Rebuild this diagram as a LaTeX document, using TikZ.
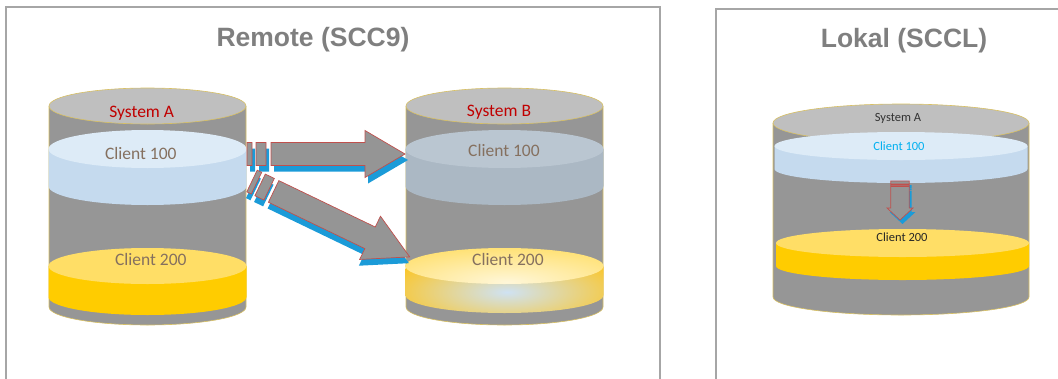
\documentclass[tikz,border=0pt]{standalone}
\usepackage{fontspec}
\setmainfont{Liberation Sans}
\newfontfamily\calfont{Carlito}
\definecolor{cylgray}{HTML}{969696}
\definecolor{cyltop}{HTML}{BFBFBF}
\definecolor{cylline}{HTML}{D8C063}
\definecolor{bluetop}{HTML}{DDEBF7}
\definecolor{blueside}{HTML}{C5DAEE}
\definecolor{yeltop}{HTML}{FFDE66}
\definecolor{yelside}{HTML}{FFCC00}
\definecolor{btop}{HTML}{BAC6D1}
\definecolor{bside}{HTML}{ABB8C4}
\definecolor{shadowblue}{HTML}{1B9BD8}
\definecolor{arrred}{HTML}{C0504D}
\definecolor{arrgray}{HTML}{959595}
\definecolor{titlegray}{HTML}{7F7F7F}
\definecolor{framegray}{HTML}{A6A6A6}
\definecolor{sysred}{HTML}{C00000}
\definecolor{clientbrown}{HTML}{85705F}
\definecolor{clientblue}{HTML}{00B0F0}
\definecolor{lightcore}{HTML}{CFE2F3}
\definecolor{strongyel}{HTML}{FBC629}

\newcommand\cylbody[6]{%
  \fill[cylgray] (#1-#2,#3) -- (#1-#2,#4) arc[start angle=180,end angle=0,x radius=#2,y radius=#6] -- (#1+#2,#3) -- cycle;
  \draw[cylline,line width=0.6] (#1-#2,#3) -- (#1-#2,#4) arc[start angle=180,end angle=0,x radius=#2,y radius=#6] -- (#1+#2,#3);
  \filldraw[fill=cyltop,draw=cylline,line width=0.6] (#1,#3) ellipse[x radius=#2,y radius=#5];
}
\newcommand\disc[7]{%
  \fill[#6] (#1-#2,#3) -- (#1-#2,#4) arc[start angle=180,end angle=0,x radius=#2,y radius=#5] -- (#1+#2,#3) -- cycle;
  \fill[#7] (#1,#3) ellipse[x radius=#2,y radius=#5];
}
% striped arrow: #1 length, #2 shaft half width, #3 head half width, #4 head length,
% stripes [0,#5] and [#6,#7], main shaft from #8, #9 shadow offset
\newcommand\drawsarrow[9]{%
  \fill[shadowblue,shift={(#9)}] (0,-#2) -- (#5,-#2) -- (#5,#2) -- (0,#2) -- cycle
    (#6,-#2) -- (#7,-#2) -- (#7,#2) -- (#6,#2) -- cycle
    (#8,-#2) -- ({#1-#4},-#2) -- ({#1-#4},-#3) -- (#1,0) -- ({#1-#4},#3) -- ({#1-#4},#2) -- (#8,#2) -- cycle;
  \filldraw[fill=arrgray,draw=arrred,line width=0.7] (0,-#2) -- (#5,-#2) -- (#5,#2) -- (0,#2) -- cycle
    (#6,-#2) -- (#7,-#2) -- (#7,#2) -- (#6,#2) -- cycle
    (#8,-#2) -- ({#1-#4},-#2) -- ({#1-#4},-#3) -- (#1,0) -- ({#1-#4},#3) -- ({#1-#4},#2) -- (#8,#2) -- cycle;
}

\tikzset{
  titletext/.style={font=\fontsize{26.5}{30}\selectfont\bfseries, text=titlegray, inner sep=0, anchor=base},
  biglbl/.style={font=\calfont\fontsize{17.5}{20}\selectfont, inner sep=0, anchor=base},
  smalllbl/.style={font=\calfont\fontsize{12.5}{15}\selectfont, inner sep=0, anchor=base},
  frame/.style={draw=framegray, line width=2},
}

\begin{document}
\begin{tikzpicture}[x=1pt,y=-1pt]
\useasboundingbox (0,0) rectangle (1058,378);

% frames
\draw[frame] (6,381) -- (6,7) -- (660,7) -- (660,381);
\draw[frame] (716,381) -- (716,9) -- (1061,9);

% titles
\node[titletext] (tremote) at (313,46) {Remote (SCC9)};
\node[titletext] (tlokal) at (904,47.5) {Lokal (SCCL)};

% cylinder A
\cylbody{147.5}{98.5}{106}{307}{18}{18}
\disc{147.5}{99}{149}{186}{19}{blueside}{bluetop}
\disc{147.5}{99}{266}{297}{18}{yelside}{yeltop}

% cylinder B
\cylbody{504.5}{98.5}{106}{307}{18}{18}
\disc{504.5}{99}{149}{186}{19}{bside}{btop}
\begin{scope}
  \clip (504.5-99,266) -- (504.5-99,295) arc[start angle=180,end angle=0,x radius=99,y radius=18] -- (504.5+99,266) -- cycle;
  \shade[inner color=lightcore, outer color=strongyel] (507,292) ellipse[x radius=125,y radius=40];
\end{scope}
\begin{scope}
  \clip (504.5,266) ellipse[x radius=99,y radius=18];
  \shade[inner color=white!75!yeltop, outer color=yeltop] (507,282) ellipse[x radius=160,y radius=40];
\end{scope}

% arrows
\begin{scope}[shift={(247,154)}]
  \drawsarrow{158}{11.5}{23.5}{40}{5}{9}{19}{24}{3,6}
\end{scope}
\begin{scope}[shift={(252,181)}, x={(0.9011pt,-0.4337pt)}, y={(-0.4337pt,-0.9011pt)}]
  \drawsarrow{175}{12}{24}{44}{5}{9}{19}{24}{2,6}
\end{scope}

% cylinder right
\cylbody{901}{128}{123}{297}{19}{18}
\disc{901}{126.5}{146}{169}{14}{blueside}{bluetop}
\disc{902.5}{126.5}{243}{266}{14}{yelside}{yeltop}
\begin{scope}[shift={(900,181)}, x={(0pt,-1pt)}, y={(-1pt,0pt)}]
  \drawsarrow{39}{9.2}{13}{12}{3}{3.6}{4.8}{5.5}{4,-2.5}
\end{scope}

% labels
\node[biglbl, text=sysred] (sysA) at (141.7,117) {System A};
\node[biglbl, text=clientbrown] (a100) at (140.8,159) {Client 100};
\node[biglbl, text=clientbrown] (a200) at (150.8,265) {Client 200};
\node[biglbl, text=sysred] (sysB) at (499,116.7) {System B};
\node[biglbl, text=clientbrown] (b100) at (504,156) {Client 100};
\node[biglbl, text=clientbrown] (b200) at (508,265.7) {Client 200};
\node[smalllbl, text=black!80] (sysL) at (898,121.7) {System A};
\node[smalllbl, text=clientblue] (l100) at (899,150.7) {Client 100};
\node[smalllbl, text=black!85] (l200) at (902,241.7) {Client 200};
\end{tikzpicture}
\end{document}
